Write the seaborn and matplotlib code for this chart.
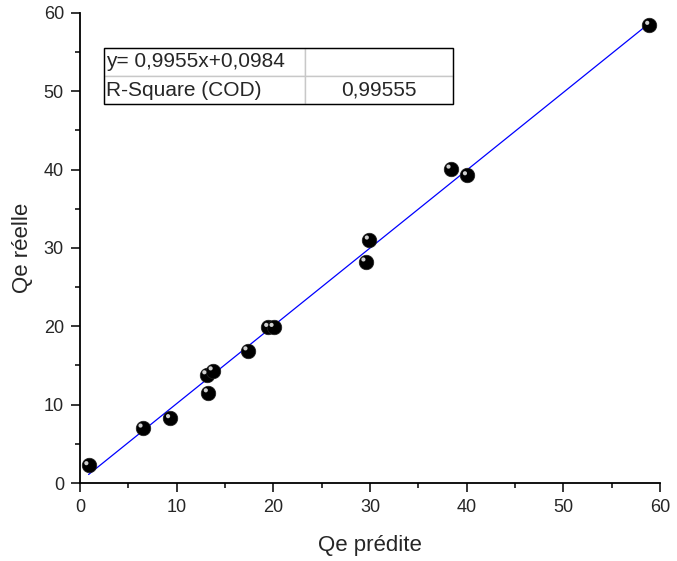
import numpy as np
import pandas as pd
import seaborn as sns
import matplotlib
matplotlib.use("Agg")
import matplotlib.pyplot as plt
import matplotlib.transforms as mtransforms
from matplotlib.ticker import MultipleLocator
from matplotlib.patches import Rectangle

# valeurs
qe_predite = [0.9, 6.5, 9.35, 13.1, 13.75, 13.25, 17.35, 19.5, 20.05, 29.55, 29.9, 38.35, 40.05, 58.9]
qe_reelle = [2.25, 7.05, 8.25, 13.85, 14.35, 11.55, 16.9, 19.9, 19.9, 28.25, 31.05, 40.1, 39.25, 58.45]
table_rows = [["y= 0,9955x+0,0984", ""], ["R-Square (COD)", "0,99555"]]

df = pd.DataFrame({"Qe prédite": qe_predite, "Qe réelle": qe_reelle})

sns.set_style("ticks")
plt.rcParams["font.family"] = ["Liberation Sans", "DejaVu Sans"]

fig = plt.figure(figsize=(6.77, 5.61), dpi=100)
ax = fig.add_axes([0.118, 0.139, 0.857, 0.838])

# droite de régression
sns.regplot(data=df, x="Qe prédite", y="Qe réelle", ax=ax, ci=None, scatter=False,
            line_kws={"color": "blue", "lw": 0.9, "zorder": 2})
# billes noires
sns.scatterplot(data=df, x="Qe prédite", y="Qe réelle", ax=ax, s=110, color="black",
                edgecolor="#222222", linewidth=0.5, zorder=3)
# petit reflet
shift = mtransforms.ScaledTranslation(-1.6 / 72, 1.6 / 72, fig.dpi_scale_trans)
ax.scatter(qe_predite, qe_reelle, s=9, color="#d0d0d0", edgecolor="none", zorder=4,
           transform=ax.transData + shift)

ax.set_xlim(0, 60)
ax.set_ylim(0, 60)
ax.xaxis.set_major_locator(MultipleLocator(10))
ax.yaxis.set_major_locator(MultipleLocator(10))
ax.xaxis.set_minor_locator(MultipleLocator(5))
ax.yaxis.set_minor_locator(MultipleLocator(5))
ax.tick_params(which="major", direction="out", length=6.5, width=1.1, labelsize=13,
               color="black", pad=5)
ax.tick_params(which="minor", direction="out", length=3.5, width=1.1, color="black")
for side in ["top", "right"]:
    ax.spines[side].set_visible(False)
for side in ["left", "bottom"]:
    ax.spines[side].set_linewidth(1.3)
    ax.spines[side].set_color("black")
ax.set_xlabel("Qe prédite", fontsize=16, labelpad=14)
ax.set_ylabel("Qe réelle", fontsize=16, labelpad=8)

# tableau des résultats
x0, x1, y0, y1 = 0.041, 0.643, 0.806, 0.926
tbl = ax.table(cellText=table_rows, bbox=[x0, y0, x1 - x0, y1 - y0],
               colWidths=[0.576, 0.424], cellLoc="left")
tbl.auto_set_font_size(False)
for (r, c), cell in tbl.get_celld().items():
    cell.set_edgecolor("#c8c8c8")
    cell.set_linewidth(1)
    cell.get_text().set_fontsize(15)
    if c == 1:
        cell.get_text().set_horizontalalignment("center")
    else:
        cell.PAD = 0.01
ax.add_patch(Rectangle((x0, y0), x1 - x0, y1 - y0, transform=ax.transAxes,
                       fill=False, edgecolor="black", lw=1, zorder=10, clip_on=False))

fig.savefig("out.png", dpi=100)
